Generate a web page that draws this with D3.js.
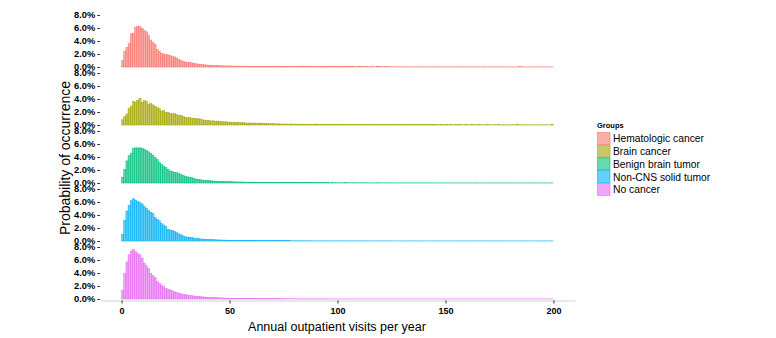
<!DOCTYPE html>
<html><head><meta charset="utf-8">
<script src="https://cdn.jsdelivr.net/npm/d3@7"></script>
<style>body{margin:0;background:#fff;} svg{display:block;font-family:"Liberation Sans",Arial,sans-serif;}</style>
</head><body><svg id="c" width="776" height="338"></svg>
<script>
const groups = ["Hematologic cancer","Brain cancer","Benign brain tumor","Non-CNS solid tumor","No cancer"];
const colors = ["#F8766D","#A3A500","#00BF7D","#00B0F6","#E76BF3"];
const xTicks = [0,50,100,150,200];
const yTicks = [0,2,4,6,8];
const yTickLabels = ["0.0%","2.0%","4.0%","6.0%","8.0%"];

// probability (%) per 1-visit bin, bins [0,1) ... [199,200)
const hematologic = [
1.0,2.4,3.0,3.6,5.1,5.2,6.1,6.3,6.2,5.95,
5.6,5.4,4.9,4.15,3.8,3.5,2.7,2.4,2.1,2.0,
1.95,1.85,1.75,1.6,1.55,1.4,1.2,1.0,0.85,0.75,
0.7,0.75,0.65,0.55,0.5,0.45,0.4,0.35,0.33,0.3,
0.27,0.25,0.22,0.2,0.2,0.18,0.19,0.17,0.16,0.15,
0.16,0.14,0.15,0.13,0.14,0.12,0.13,0.12,0.11,0.12,
0.1,0.11,0.1,0.09,0.1,0.09,0.1,0.08,0.09,0.08,
0.09,0.08,0.07,0.08,0.07,0.08,0.07,0.06,0.07,0.06,
0.07,0.06,0.07,0.15,0.06,0.14,0.06,0.05,0.06,0.05,
0.05,0.06,0.05,0.05,0.04,0.05,0.05,0.04,0.05,0.04,
0.05,0.04,0.04,0.12,0.04,0.05,0.04,0.04,0.03,0.04,
0.11,0.04,0.03,0.04,0.03,0.04,0.03,0.03,0.04,0.1,
0.03,0.03,0.04,0.03,0.03,0.03,0.02,0.03,0.03,0.02,
0.03,0.02,0.03,0.02,0.02,0.03,0.02,0.02,0.02,0.03,
0.02,0.02,0.02,0.02,0.03,0.02,0.02,0.02,0.02,0.02,
0.02,0.02,0.02,0.02,0.02,0.02,0.02,0.02,0.02,0.02,
0.02,0.02,0.01,0.02,0.02,0.02,0.01,0.02,0.02,0.01,
0.02,0.02,0.01,0.02,0.01,0.02,0.02,0.01,0.02,0.01,
0.02,0.01,0.02,0.01,0.08,0.01,0.02,0.01,0.01,0.02,
0.01,0.01,0.02,0.01,0.01,0.01,0.01,0.02,0.01,0.01];

const brain = [
0.8,1.3,1.7,2.6,2.9,3.6,3.5,3.8,4.05,3.5,
3.75,3.6,3.2,3.3,3.1,2.9,2.7,2.5,2.1,2.2,
1.95,1.9,1.8,1.7,1.75,1.6,1.5,1.45,1.3,1.2,
1.1,1.15,1.05,1.0,1.0,0.95,0.92,0.8,0.75,0.67,
0.7,0.6,0.65,0.55,0.6,0.56,0.5,0.48,0.5,0.42,
0.45,0.41,0.38,0.4,0.35,0.33,0.36,0.3,0.28,0.32,
0.27,0.3,0.25,0.28,0.3,0.22,0.24,0.2,0.23,0.18,
0.2,0.15,0.18,0.14,0.17,0.13,0.15,0.12,0.16,0.12,
0.13,0.1,0.14,0.11,0.12,0.1,0.13,0.09,0.11,0.1,
0.15,0.09,0.1,0.08,0.12,0.09,0.08,0.1,0.07,0.14,
0.08,0.07,0.09,0.07,0.1,0.06,0.08,0.07,0.06,0.09,
0.06,0.07,0.06,0.08,0.05,0.06,0.07,0.05,0.06,0.05,
0.07,0.05,0.06,0.05,0.08,0.05,0.05,0.06,0.04,0.05,
0.06,0.04,0.05,0.04,0.07,0.04,0.05,0.04,0.04,0.06,
0.04,0.04,0.05,0.04,0.04,0.06,0.03,0.04,0.04,0.03,
0.05,0.03,0.04,0.03,0.04,0.03,0.05,0.03,0.03,0.04,
0.03,0.03,0.04,0.03,0.03,0.05,0.03,0.03,0.03,0.04,
0.03,0.02,0.03,0.03,0.04,0.02,0.03,0.03,0.02,0.03,
0.02,0.03,0.02,0.04,0.02,0.02,0.03,0.02,0.02,0.03,
0.02,0.02,0.03,0.02,0.02,0.02,0.03,0.02,0.02,0.04];

const benign = [
0.9,2.1,3.4,4.2,4.6,5.3,5.4,5.4,5.4,5.35,
5.2,5.0,4.8,4.6,4.3,3.9,3.6,3.2,2.9,2.6,
2.4,2.1,1.85,1.75,1.65,1.6,1.45,1.3,1.15,1.0,
0.95,0.9,0.8,0.7,0.6,0.55,0.5,0.45,0.42,0.4,
0.35,0.33,0.3,0.28,0.27,0.26,0.24,0.22,0.21,0.2,
0.19,0.18,0.17,0.16,0.16,0.15,0.15,0.14,0.13,0.13,
0.12,0.12,0.11,0.11,0.1,0.1,0.1,0.09,0.09,0.09,
0.08,0.08,0.08,0.07,0.07,0.07,0.07,0.06,0.06,0.06,
0.06,0.06,0.05,0.05,0.05,0.05,0.05,0.05,0.04,0.04,
0.04,0.04,0.04,0.04,0.04,0.04,0.03,0.04,0.03,0.03,
0.03,0.03,0.03,0.04,0.03,0.03,0.03,0.03,0.03,0.02,
0.03,0.03,0.02,0.03,0.02,0.03,0.02,0.02,0.03,0.02,
0.02,0.02,0.03,0.02,0.02,0.02,0.02,0.02,0.02,0.02,
0.02,0.02,0.02,0.02,0.02,0.02,0.02,0.01,0.02,0.02,
0.02,0.01,0.02,0.02,0.01,0.02,0.01,0.02,0.01,0.01,
0.02,0.01,0.01,0.02,0.01,0.01,0.01,0.02,0.01,0.01,
0.01,0.01,0.01,0.01,0.02,0.01,0.01,0.01,0.01,0.01,
0.01,0.01,0.01,0.01,0.01,0.01,0.01,0.01,0.01,0.01,
0.01,0.01,0.01,0.01,0.01,0.01,0.01,0.01,0.01,0.01,
0.01,0.01,0.01,0.01,0.01,0.01,0.01,0.01,0.01,0.01];

const solid = [
1.0,3.2,4.6,5.5,6.2,6.5,6.3,6.05,5.9,5.7,
5.3,5.0,4.7,4.45,4.25,3.6,3.35,3.1,2.7,2.45,
2.2,1.8,1.7,1.6,1.45,1.3,1.1,0.95,0.8,0.65,
0.6,0.58,0.55,0.45,0.4,0.35,0.32,0.3,0.27,0.25,
0.22,0.21,0.2,0.18,0.17,0.16,0.15,0.14,0.13,0.12,
0.12,0.11,0.11,0.1,0.1,0.09,0.09,0.08,0.08,0.08,
0.07,0.07,0.07,0.06,0.06,0.06,0.06,0.05,0.05,0.05,
0.05,0.05,0.04,0.04,0.04,0.04,0.04,0.04,0.03,0.03,
0.03,0.03,0.03,0.03,0.03,0.03,0.03,0.02,0.02,0.02,
0.02,0.02,0.02,0.02,0.02,0.02,0.02,0.02,0.02,0.02,
0.02,0.02,0.02,0.02,0.02,0.02,0.02,0.01,0.02,0.02,
0.02,0.01,0.02,0.01,0.02,0.01,0.02,0.01,0.01,0.02,
0.01,0.01,0.02,0.01,0.01,0.01,0.01,0.01,0.01,0.01,
0.01,0.01,0.01,0.01,0.01,0.01,0.01,0.01,0.01,0.01,
0.01,0.01,0.01,0.01,0.01,0.01,0.01,0.01,0.01,0.01,
0.01,0.01,0.01,0.01,0.01,0.01,0.01,0.01,0.01,0.01,
0.01,0.01,0.01,0.01,0.01,0.01,0.01,0.01,0.01,0.01,
0.01,0.01,0.01,0.01,0.01,0.01,0.01,0.01,0.01,0.01,
0.01,0.01,0.01,0.01,0.01,0.01,0.01,0.01,0.01,0.01,
0.01,0.01,0.01,0.01,0.01,0.01,0.01,0.01,0.01,0.01];

const noCancer = [
1.3,3.9,5.7,6.8,7.4,7.6,7.3,7.0,6.8,6.25,
5.5,5.1,4.7,3.95,3.6,3.3,2.7,2.4,2.15,1.9,
1.65,1.5,1.4,1.25,1.1,1.0,0.9,0.8,0.72,0.67,
0.6,0.55,0.5,0.45,0.4,0.38,0.36,0.33,0.3,0.27,
0.25,0.23,0.21,0.2,0.19,0.17,0.16,0.15,0.14,0.13,
0.12,0.12,0.11,0.1,0.1,0.09,0.09,0.08,0.08,0.08,
0.07,0.07,0.06,0.06,0.06,0.05,0.05,0.05,0.05,0.04,
0.04,0.04,0.04,0.04,0.03,0.03,0.03,0.03,0.03,0.03,
0.03,0.02,0.02,0.02,0.02,0.02,0.02,0.02,0.02,0.02,
0.02,0.02,0.02,0.02,0.01,0.02,0.01,0.01,0.01,0.01,
0.01,0.01,0.01,0.01,0.01,0.01,0.01,0.01,0.01,0.01,
0.01,0.01,0.01,0.01,0.01,0.01,0.01,0.01,0.01,0.01,
0.01,0.01,0.01,0.01,0.01,0.01,0.01,0.01,0.01,0.01,
0.01,0.01,0.01,0.01,0.01,0.01,0.01,0.01,0.01,0.01,
0.01,0.01,0.01,0.01,0.01,0.01,0.01,0.01,0.01,0.01,
0.01,0.01,0.01,0.01,0.01,0.01,0.01,0.01,0.01,0.01,
0.01,0.01,0.01,0.01,0.01,0.01,0.01,0.01,0.01,0.01,
0.01,0.01,0.01,0.01,0.01,0.01,0.01,0.01,0.01,0.01,
0.01,0.01,0.01,0.01,0.01,0.01,0.01,0.01,0.01,0.01,
0.01,0.01,0.01,0.01,0.01,0.01,0.01,0.01,0.01,0.01];

const series = [hematologic, brain, benign, solid, noCancer];

const svg = d3.select("#c");
const plotLeft = 100, plotRight = 575;
const x = d3.scaleLinear().domain([-10, 210]).range([plotLeft, plotRight]);

const firstZero = 67, panelStep = 58, pxPerPct = 6.5;

series.forEach((vals, gi) => {
  const zero = firstZero + gi * panelStep;
  const y = d3.scaleLinear().domain([0, 8]).range([zero, zero - 8 * pxPerPct]);
  const g = svg.append("g");
  g.selectAll("rect").data(vals).join("rect")
    .attr("x", (d, i) => x(i))
    .attr("width", (d, i) => x(i + 1) - x(i))
    .attr("y", d => y(d))
    .attr("height", d => y(0) - y(d))
    .attr("fill", colors[gi]).attr("fill-opacity", 0.62)
    .attr("stroke", colors[gi]).attr("stroke-width", 0.5);

  const ax = svg.append("g").attr("transform", `translate(${plotLeft},0)`)
    .call(d3.axisLeft(y).tickValues(yTicks).tickFormat((d, i) => yTickLabels[i]).tickSize(2.7).tickPadding(2));
  ax.select(".domain").remove();
  ax.selectAll(".tick line").attr("stroke", "#333");
  ax.selectAll(".tick text").attr("font-family", "Liberation Sans, Arial, sans-serif")
    .attr("font-size", 9.3).attr("font-weight", "bold").attr("fill", "#000");
});

const xAxisY = 300.5;
const xa = svg.append("g").attr("transform", `translate(0,${xAxisY})`)
  .call(d3.axisBottom(x).tickValues(xTicks).tickSizeInner(3).tickSizeOuter(0).tickPadding(4));
xa.select(".domain").attr("stroke", "#d0d0d0");
xa.selectAll(".tick line").attr("stroke", "#333");
xa.selectAll(".tick text").attr("font-family", "Liberation Sans, Arial, sans-serif")
  .attr("font-size", 9).attr("font-weight", "bold").attr("fill", "#000");

svg.append("text").attr("x", 337).attr("y", 331).attr("text-anchor", "middle")
  .attr("font-size", 12.5).attr("fill", "#000").text("Annual outpatient visits per year");
svg.append("text").attr("transform", "translate(69.5,158) rotate(-90)").attr("text-anchor", "middle")
  .attr("font-size", 14).attr("fill", "#000").text("Probability of occurrence");

// legend
const lg = svg.append("g").attr("transform", "translate(597,0)");
lg.append("text").attr("x", 0).attr("y", 128).attr("font-size", 7.5).attr("font-weight", "bold").text("Groups");
const keyH = 12.7;
groups.forEach((gname, i) => {
  const ky = 132.5 + i * keyH;
  lg.append("rect").attr("x", 0.5).attr("y", ky).attr("width", 12.5).attr("height", keyH - 0.7)
    .attr("fill", colors[i]).attr("fill-opacity", 0.6).attr("stroke", colors[i]).attr("stroke-width", 0.6);
  lg.append("text").attr("x", 16).attr("y", ky + keyH / 2 + 3.6).attr("font-size", 10.3).attr("fill", "#000").text(gname);
});
</script></body></html>
